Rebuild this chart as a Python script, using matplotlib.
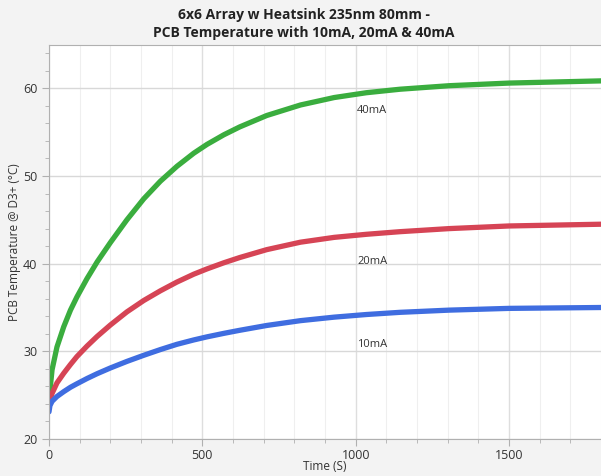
import numpy as np
import matplotlib.pyplot as plt
from matplotlib.ticker import MultipleLocator

plt.rcParams['font.family'] = ['Open Sans', 'DejaVu Sans']

# Time (s) and PCB temperature
t = [0, 3, 10, 26, 48, 70, 91, 124, 157, 200, 254, 309, 363, 417, 472, 515,
     570, 622, 710, 820, 930, 1035, 1145, 1305, 1500, 1800]
temp_40ma = [23.5, 25.5, 27.9, 30.5, 32.8, 34.7, 36.2, 38.3, 40.2, 42.4, 45.0, 47.4, 49.4,
             51.1, 52.6, 53.6, 54.7, 55.6, 56.9, 58.1, 58.95, 59.5, 59.9, 60.3, 60.6, 60.85]
temp_20ma = [23.5, 24.4, 25.2, 26.4, 27.5, 28.5, 29.4, 30.6, 31.7, 33.0, 34.5, 35.8, 36.9,
             37.9, 38.8, 39.4, 40.1, 40.7, 41.6, 42.45, 43.0, 43.35, 43.65, 44.0, 44.3, 44.5]
temp_10ma = [23.1, 23.8, 24.3, 24.85, 25.4, 25.9, 26.3, 26.9, 27.45, 28.1, 28.85, 29.55, 30.2,
             30.8, 31.3, 31.65, 32.05, 32.4, 32.95, 33.5, 33.9, 34.2, 34.45, 34.7, 34.9, 35.0]

labels = ["40mA", "20mA", "10mA"]
label_y = [57.5, 40.2, 30.8]
label_x = 1005

fig = plt.figure(figsize=(6.01, 4.76), dpi=100, facecolor='#f3f3f3')
ax = fig.add_axes([49 / 601, 1 - 439 / 476, 1 - 49 / 601, (439 - 44.5) / 476])
ax.set_facecolor('white')

for y, c in zip([temp_40ma, temp_20ma, temp_10ma], ['#3aad3e', '#d64455', '#3f6de0']):
    ax.plot(t, y, color=c, lw=3.8, solid_capstyle='round', solid_joinstyle='round')

for lab, ly in zip(labels, label_y):
    ax.text(label_x, ly, lab, fontsize=8, color='#333333', va='center', ha='left')

ax.set_xlim(0, 1800)
ax.set_ylim(20, 65)
ax.xaxis.set_major_locator(MultipleLocator(500))
ax.xaxis.set_minor_locator(MultipleLocator(100))
ax.yaxis.set_major_locator(MultipleLocator(10))
ax.yaxis.set_minor_locator(MultipleLocator(2))

ax.grid(True, which='major', axis='y', color='#d8d8d8', lw=1)
ax.grid(True, which='major', axis='x', color='#dedede', lw=1)
ax.grid(True, which='minor', axis='x', color='#efefef', lw=0.8)
ax.set_axisbelow(True)

for s in ['left', 'bottom', 'top']:
    ax.spines[s].set_color('#b0b0b0')
ax.spines['right'].set_visible(False)
ax.tick_params(which='major', length=5, color='#b0b0b0', labelsize=9, labelcolor='#333333')
ax.tick_params(which='minor', length=3, color='#b0b0b0')
ax.tick_params(axis='x', pad=2)

ax.set_xlabel("Time (S)", fontsize=8.5, color='#333333', labelpad=-1)
ax.set_ylabel("PCB Temperature @ D3+ (°C)", fontsize=8.5, color='#333333', labelpad=1)
fig.text(0.505, 1 - 24 / 476, "6x6 Array w Heatsink 235nm 80mm -\nPCB Temperature with 10mA, 20mA & 40mA",
         ha='center', va='center', fontsize=10, fontweight='bold', color='#222222', linespacing=1.45)

fig.savefig('out.png', dpi=100, facecolor=fig.get_facecolor())
